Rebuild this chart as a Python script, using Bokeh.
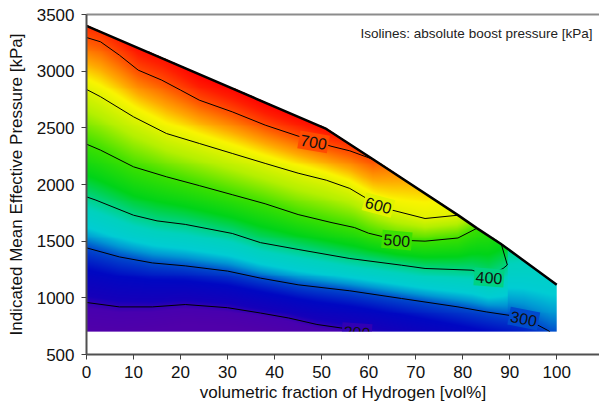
import numpy as np
from bokeh.plotting import figure
from bokeh.models import Range1d, LinearAxis, FixedTicker, Label, ColumnDataSource
from bokeh.core.properties import value
from bokeh.embed import file_html
from bokeh.resources import INLINE

# ---------------- data ----------------
x_ticks = [0, 10, 20, 30, 40, 50, 60, 70, 80, 90, 100]
y_ticks = [500, 1000, 1500, 2000, 2500, 3000, 3500]

# upper limit of the operating map (IMEP max vs. H2 fraction)
boundary_x = [0, 51, 61, 79, 83, 88, 100]
boundary_y = [3400, 2490, 2220, 1730, 1615, 1480, 1115]
imep_floor = 700
h2_max = 100

# isolines of absolute boost pressure [kPa]
iso_levels = [200, 300, 400, 500, 600, 700]
iso200_x = [0, 7, 14, 21, 30, 37, 43, 49, 54, 57, 60]
iso200_y = [959, 920, 920, 941, 913, 866, 822, 765, 735, 718, 695]
iso300_x = [0, 7, 14, 21, 30, 37, 45, 56, 67, 79, 85, 90, 93, 96, 98, 98.6]
iso300_y = [1441, 1361, 1308, 1282, 1236, 1174, 1115, 1062, 994, 920, 876, 845, 818, 759, 715, 700]
iso400_x = [0, 2, 10, 15, 21, 31, 37, 45, 56, 67, 72, 82, 85.5, 88.6, 89.5, 88.2]
iso400_y = [1891, 1862, 1729, 1679, 1648, 1568, 1487, 1427, 1347, 1288, 1259, 1244, 1195, 1259, 1290, 1476]
iso500_x = [0, 3, 10, 17, 24, 31, 38, 45, 52, 57, 60, 66, 72, 79, 83]
iso500_y = [2356, 2303, 2156, 2068, 1990, 1910, 1830, 1735, 1665, 1620, 1570, 1510, 1500, 1528, 1613]
iso600_x = [0, 3, 10, 17, 24, 31, 38, 45, 51, 56, 59, 62, 65, 72, 79]
iso600_y = [2839, 2774, 2597, 2450, 2362, 2274, 2186, 2100, 2038, 1965, 1891, 1818, 1774, 1700, 1729]
iso700_x = [0, 3, 7, 11, 16, 20, 24, 31, 38, 45, 52, 56, 61]
iso700_y = [3297, 3259, 3141, 3009, 2921, 2833, 2744, 2641, 2524, 2427, 2338, 2297, 2221]

iso_xs = [iso200_x, iso300_x, iso400_x, iso500_x, iso600_x, iso700_x]
iso_ys = [iso200_y, iso300_y, iso400_y, iso500_y, iso600_y, iso700_y]

# contour label placement (annotation layout)
label_x = [57.5, 93.0, 85.6, 66.0, 62.1, 48.3]
label_y = [697, 818, 1180, 1509, 1818, 2376]
label_angle_deg = [-4, -11, -4, -5, -15, -10]

# colour scale (boost pressure -> colour)
cmap_p = [150, 190, 212, 260, 300, 320, 340, 375, 405, 440, 500, 560, 620, 650, 690, 730, 760]
cmap_rgb = [(80, 0, 170), (72, 0, 176), (22, 0, 186), (0, 8, 195), (0, 75, 205),
            (0, 150, 212), (0, 205, 212), (0, 210, 190), (0, 210, 120), (0, 212, 25),
            (60, 225, 0), (180, 240, 0), (250, 245, 0), (255, 170, 0), (255, 90, 0),
            (255, 30, 0), (255, 0, 0)]

# ---------------- build field from isolines ----------------
def cmap(pv):
    pv = np.asarray(pv, dtype=float)
    rgb = np.array(cmap_rgb, dtype=float)
    return np.stack([np.interp(pv, cmap_p, rgb[:, c]) for c in range(3)], axis=-1)

nx, ny = 470, 320
y_img_top = 3450
xs = (np.arange(nx) + 0.5) * h2_max / nx
ys = imep_floor + (np.arange(ny) + 0.5) * (y_img_top - imep_floor) / ny
bnd = np.interp(xs, boundary_x, boundary_y)

Y = np.zeros((len(iso_levels), nx))
for k, (lx, ly) in enumerate(zip(iso_xs, iso_ys)):
    lx = np.array(lx, float)
    ly = np.array(ly, float)
    m = len(lx)
    for i in range(1, len(lx)):
        if lx[i] <= lx[i - 1]:
            m = i
            break
    px_, py_ = lx[:m], ly[:m]
    yk = np.interp(xs, px_, py_)
    beyond = xs > px_[-1]
    if py_[-1] < 760:
        yk[beyond] = py_[-1] - (xs[beyond] - px_[-1]) * 10
    else:
        yk[beyond] = bnd[beyond] + (xs[beyond] - px_[-1]) * 40 + 5
    if k > 0:
        yk = np.maximum(yk, Y[k - 1] + 5)
    Y[k] = yk

lev = np.array(iso_levels, float)
P = np.zeros((ny, nx))
for i in range(nx):
    yk = Y[:, i]
    pv = np.interp(ys, yk, lev)
    lo = ys < yk[0]
    pv[lo] = lev[0] - (yk[0] - ys[lo]) / (yk[1] - yk[0]) * 100
    hi = ys > yk[-1]
    pv[hi] = lev[-1] + (ys[hi] - yk[-1]) / (yk[-1] - yk[-2]) * 100
    P[:, i] = pv

rgb = cmap(P)
img = np.zeros((ny, nx), dtype=np.uint32)
view = img.view(dtype=np.uint8).reshape((ny, nx, 4))
view[:, :, 0] = rgb[:, :, 0].astype(np.uint8)
view[:, :, 1] = rgb[:, :, 1].astype(np.uint8)
view[:, :, 2] = rgb[:, :, 2].astype(np.uint8)
inside = ys[:, None] <= bnd[None, :]
view[:, :, 3] = np.where(inside, 255, 0).astype(np.uint8)

# ---------------- figure ----------------
FONT = "Liberation Sans"
p = figure(width=599, height=406, x_range=Range1d(0, 109.1), y_range=Range1d(500, 3500),
           output_backend="svg", toolbar_location=None,
           min_border_left=86, min_border_right=0, min_border_top=14, min_border_bottom=52)
p.grid.visible = False
p.outline_line_color = None
p.background_fill_color = "white"
p.border_fill_color = "white"

p.image_rgba(image=[img], x=0, y=imep_floor, dw=h2_max, dh=y_img_top - imep_floor)

p.multi_line(xs=iso_xs, ys=iso_ys, line_color="black", line_width=1)

box_cols = ["#%02x%02x%02x" % tuple(int(c) for c in cmap(l)) for l in iso_levels]
lsrc = ColumnDataSource(dict(x=label_x, y=label_y, text=[str(l) for l in iso_levels],
                             angle=[np.deg2rad(a) for a in label_angle_deg], color=box_cols))
p.rect(x="x", y="y", width=30, height=18, width_units="screen", height_units="screen",
       angle="angle", fill_color="color", line_color=None, source=lsrc)
p.text(x="x", y="y", text="text", angle="angle", source=lsrc, text_align="center",
       text_baseline="middle", text_font=value(FONT), text_font_size="16px", text_color="#111111")

# white area below the mapped region
p.quad(left=0, right=p.x_range.end, bottom=p.y_range.start, top=imep_floor,
       fill_color="white", line_color=None)

p.line(boundary_x, boundary_y, line_color="black", line_width=2.5)

p.add_layout(Label(x=107.6, y=3336, text="Isolines: absolute boost pressure [kPa]",
                   text_align="right", text_baseline="alphabetic", text_font=FONT,
                   text_font_size="13.5px", text_color="#222222"))

for ax in (p.xaxis[0], p.yaxis[0]):
    ax.axis_line_color = "#505050"
    ax.axis_line_width = 2
    ax.major_tick_line_color = "#404040"
    ax.major_tick_out = 5
    ax.major_tick_in = 0
    ax.minor_tick_line_color = None
    ax.major_label_text_font = FONT
    ax.major_label_text_font_size = "17px"
    ax.major_label_text_color = "#111111"
    ax.axis_label_text_font = FONT
    ax.axis_label_text_font_size = "17px"
    ax.axis_label_text_font_style = "normal"
    ax.axis_label_text_color = "#111111"

p.xaxis[0].ticker = FixedTicker(ticks=x_ticks)
p.yaxis[0].ticker = FixedTicker(ticks=y_ticks)
p.xaxis[0].axis_label = "volumetric fraction of Hydrogen [vol%]"
p.yaxis[0].axis_label = "Indicated Mean Effective Pressure [kPa]"
p.xaxis[0].major_label_standoff = 6
p.xaxis[0].axis_label_standoff = 2
p.yaxis[0].major_label_standoff = 7
p.yaxis[0].axis_label_standoff = 8

top = LinearAxis(ticker=FixedTicker(ticks=[]), axis_line_color="#8c8c8c", axis_line_width=2,
                 major_tick_line_color=None, minor_tick_line_color=None,
                 major_label_text_font_size="0px")
p.add_layout(top, "above")

open("out.html", "w").write(file_html(p, INLINE))
